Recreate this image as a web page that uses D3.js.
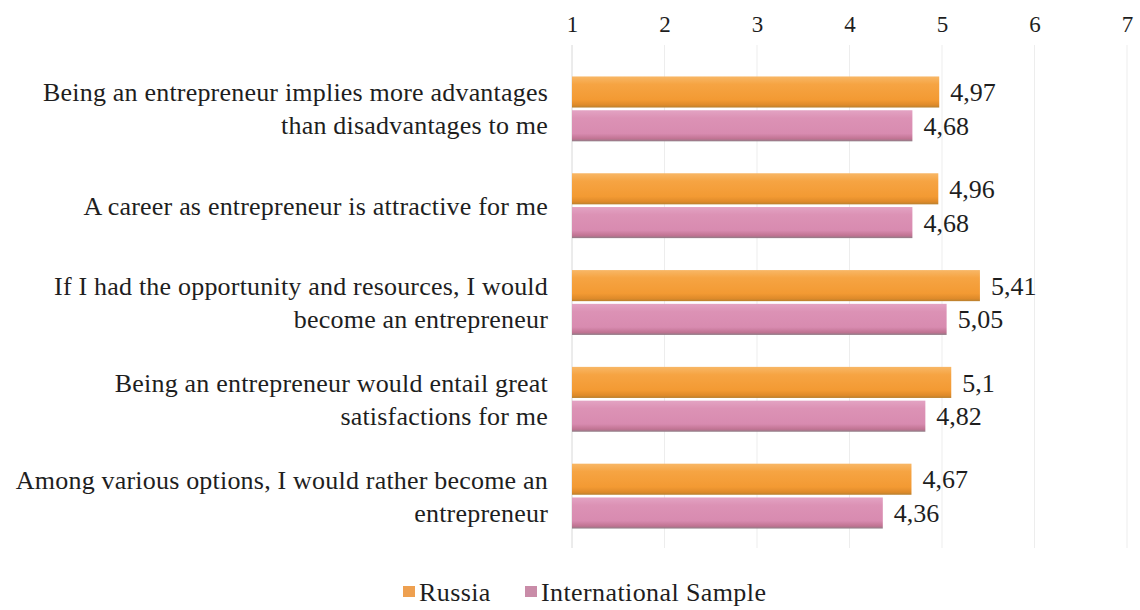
<!DOCTYPE html>
<html>
<head>
<meta charset="utf-8">
<script src="https://cdn.jsdelivr.net/npm/d3@7"></script>
<style>
  html, body { margin: 0; padding: 0; background: #ffffff; }
  svg { display: block; }
</style>
</head>
<body>
<svg id="chart" width="1140" height="610"></svg>
<script>
// Statements (each split into display lines)
const statements = [
  ["Being an entrepreneur implies more advantages", "than disadvantages to me"],
  ["A career as entrepreneur is attractive for me"],
  ["If I had the opportunity and resources, I would", "become an entrepreneur"],
  ["Being an entrepreneur would entail great", "satisfactions for me"],
  ["Among various options, I would rather become an", "entrepreneur"]
];
const seriesNames = ["Russia", "International Sample"];
const russia = [4.97, 4.96, 5.41, 5.1, 4.67];
const international = [4.68, 4.68, 5.05, 4.82, 4.36];
const tickValues = [1, 2, 3, 4, 5, 6, 7];

const FONT = "Liberation Serif";
const INK = "#1e1e1e";
const svg = d3.select("#chart");

const x = d3.scaleLinear().domain([1, 7]).range([572, 1127]);
const y = d3.scaleBand().domain(d3.range(statements.length)).range([60, 545]).paddingInner(0.33).paddingOuter(0.17);
const sub = d3.scaleBand().domain([0, 1]).range([0, y.bandwidth()]).paddingInner(0.08);

const fmt = v => String(v).replace(".", ",");

// Gradients for the shaded bars
const defs = svg.append("defs");
function grad(id, stops) {
  const g = defs.append("linearGradient").attr("id", id).attr("x1", 0).attr("y1", 0).attr("x2", 0).attr("y2", 1);
  stops.forEach(s => g.append("stop").attr("offset", s[0]).attr("stop-color", s[1]));
}
grad("gOrange", [[0, "#f8b766"], [0.25, "#f6a443"], [0.75, "#f39a33"], [0.92, "#de8a2a"], [1, "#b8802f"]]);
grad("gPink", [[0, "#e3a3c3"], [0.25, "#dc92b5"], [0.75, "#d88bb0"], [0.92, "#c07392"], [1, "#8f7d86"]]);
const fills = ["url(#gOrange)", "url(#gPink)"];
const swatch = ["#eea050", "#c98ca8"];

// Vertical gridlines
svg.append("g").selectAll("line").data(tickValues.slice(1)).join("line")
  .attr("x1", d => x(d)).attr("x2", d => x(d))
  .attr("y1", 45).attr("y2", 548)
  .attr("stroke", "#ededed").attr("stroke-width", 1);

// Top axis
const axis = svg.append("g").attr("transform", "translate(0,42)")
  .call(d3.axisTop(x).tickValues(tickValues).tickFormat(d3.format("d")).tickSize(0).tickPadding(10));
axis.select(".domain").remove();
axis.selectAll("text").style("font-size", "23px").style("font-family", FONT).attr("fill", INK);

// Left axis line
svg.append("line").attr("x1", x(1)).attr("x2", x(1)).attr("y1", 45).attr("y2", 548)
  .attr("stroke", "#d8d8d8").attr("stroke-width", 1);

// Bars
const groups = svg.append("g").selectAll("g").data(statements).join("g")
  .attr("transform", (d, i) => `translate(0,${y(i)})`);

[russia, international].forEach((vals, s) => {
  groups.append("rect")
    .attr("x", x(1))
    .attr("y", sub(s))
    .attr("width", (d, i) => x(vals[i]) - x(1))
    .attr("height", sub.bandwidth())
    .attr("fill", fills[s]);
  groups.append("text")
    .attr("x", (d, i) => x(vals[i]) + 11)
    .attr("y", sub(s) + sub.bandwidth() / 2)
    .attr("dy", "0.35em")
    .style("font-family", FONT)
    .style("font-size", "26px")
    .attr("fill", INK)
    .text((d, i) => fmt(vals[i]));
});

// Category labels
groups.append("text")
  .attr("text-anchor", "end")
  .attr("x", 548)
  .style("font-family", FONT)
  .style("font-size", "26px")
  .style("letter-spacing", "0.2px")
  .attr("fill", INK)
  .each(function (lines) {
    const t = d3.select(this);
    const lh = 33;
    const c = y.bandwidth() / 2;
    const start = c - (lines.length - 1) * lh / 2;
    lines.forEach((ln, k) => {
      t.append("tspan").attr("x", 548).attr("y", start + k * lh).attr("dy", "0.35em").text(ln);
    });
  });

// Legend
const legend = svg.append("g").attr("transform", "translate(0,592)");
const legendItems = [{ x: 403, name: seriesNames[0], c: swatch[0] }, { x: 525, name: seriesNames[1], c: swatch[1] }];
legendItems.forEach(it => {
  legend.append("rect").attr("x", it.x).attr("y", -6).attr("width", 12).attr("height", 11).attr("fill", it.c);
  legend.append("text").attr("x", it.x + 16).attr("y", 0).attr("dy", "0.35em")
    .style("font-family", FONT).style("font-size", "26px").style("letter-spacing", "0.4px")
    .attr("fill", INK).text(it.name);
});
</script>
</body>
</html>
